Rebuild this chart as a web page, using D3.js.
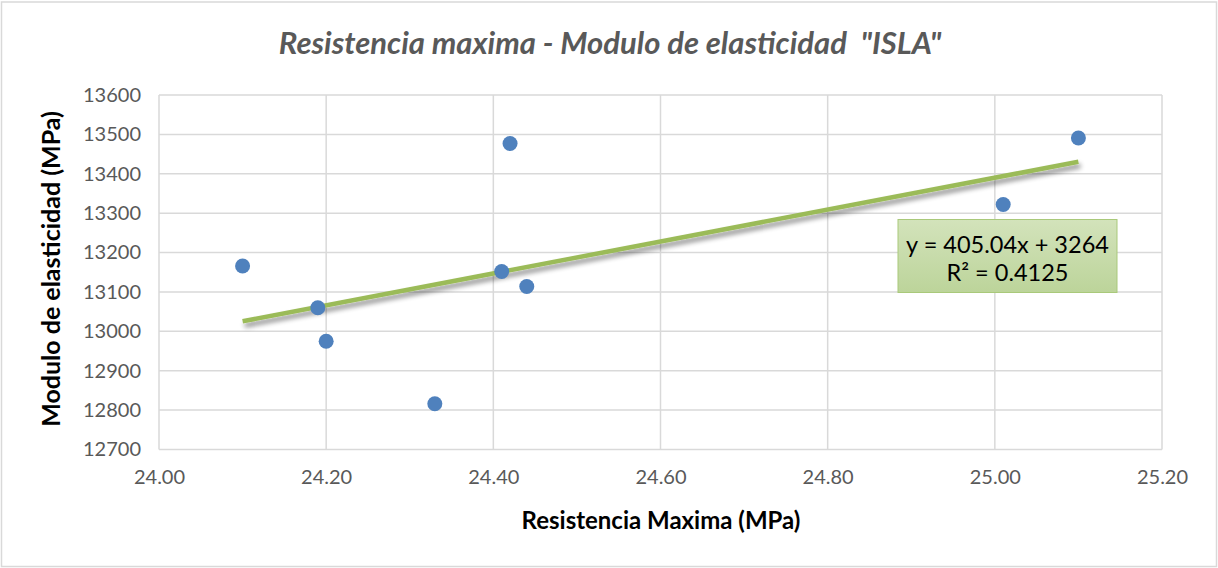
<!DOCTYPE html>
<html>
<head>
<meta charset="utf-8">
<script src="https://cdnjs.cloudflare.com/ajax/libs/d3/7.8.5/d3.min.js"></script>
<style>
  body { margin: 0; background: #fff; }
  svg { display: block; font-family: Lato, "Open Sans", sans-serif; }
</style>
</head>
<body>
<div id="chart"></div>
<script>
// data
var resistencia = [24.10, 24.19, 24.20, 24.33, 24.41, 24.42, 24.44, 25.01, 25.10];
var modulo = [13166, 13060, 12975, 12816, 13152, 13477, 13114, 13322, 13491];
var xTicks = [24.00, 24.20, 24.40, 24.60, 24.80, 25.00, 25.20];
var yTicks = [12700, 12800, 12900, 13000, 13100, 13200, 13300, 13400, 13500, 13600];
var slope = 405.04, intercept = 3264;
var eqLines = ["y = 405.04x + 3264", "R² = 0.4125"];

var width = 1218, height = 568;
var plotLeft = 159, plotRight = 1162, plotTop = 95, plotBottom = 449.5;

var svg = d3.select("#chart").append("svg")
	.attr("width", width)
	.attr("height", height);

var defs = svg.append("defs");
var shadow = defs.append("filter").attr("id", "shadow")
	.attr("x", "-5%").attr("y", "-50%").attr("width", "110%").attr("height", "300%");
shadow.append("feGaussianBlur").attr("in", "SourceAlpha").attr("stdDeviation", 2.5);
shadow.append("feOffset").attr("dx", 2).attr("dy", 4).attr("result", "off");
shadow.append("feComponentTransfer").append("feFuncA").attr("type", "linear").attr("slope", 0.45);
var merge = shadow.append("feMerge");
merge.append("feMergeNode");
merge.append("feMergeNode").attr("in", "SourceGraphic");

var grad = defs.append("linearGradient").attr("id", "boxfill")
	.attr("x1", 0).attr("y1", 0).attr("x2", 0).attr("y2", 1);
grad.append("stop").attr("offset", 0).attr("stop-color", "#d3e3bb");
grad.append("stop").attr("offset", 1).attr("stop-color", "#bcd49a");

// outer border
svg.append("rect")
	.attr("x", 1.5).attr("y", 2).attr("width", width - 3).attr("height", height - 3.5)
	.style("fill", "#fff").style("stroke", "#d9d9d9").style("stroke-width", 1.5);

var x = d3.scaleLinear().domain([24.00, 25.20]).range([plotLeft, plotRight]);
var y = d3.scaleLinear().domain([12700, 13600]).range([plotBottom, plotTop]);

// gridlines
svg.append("g").selectAll("line").data(yTicks).enter().append("line")
	.attr("x1", plotLeft).attr("x2", plotRight)
	.attr("y1", function(d) { return y(d); })
	.attr("y2", function(d) { return y(d); })
	.style("stroke", "#d9d9d9").style("stroke-width", 1.5);
svg.append("g").selectAll("line").data(xTicks).enter().append("line")
	.attr("y1", plotTop).attr("y2", plotBottom)
	.attr("x1", function(d) { return x(d); })
	.attr("x2", function(d) { return x(d); })
	.style("stroke", "#d9d9d9").style("stroke-width", 1.5);

// axes (labels only)
var yAxis = svg.append("g").attr("transform", "translate(" + plotLeft + ",0)")
	.call(d3.axisLeft(y).tickValues(yTicks).tickSize(0).tickPadding(18).tickFormat(d3.format("d")));
var xAxis = svg.append("g").attr("transform", "translate(0," + plotBottom + ")")
	.call(d3.axisBottom(x).tickValues(xTicks).tickSize(0).tickPadding(20).tickFormat(d3.format(".2f")));
[xAxis, yAxis].forEach(function(a) {
	a.select(".domain").remove();
	a.selectAll("text").style("font-size", "20px").style("fill", "#595959")
		.style("font-family", "Lato, 'Open Sans', sans-serif");
});

// trendline
var xMin = d3.min(resistencia), xMax = d3.max(resistencia);
svg.append("line")
	.attr("x1", x(xMin)).attr("y1", y(slope * xMin + intercept))
	.attr("x2", x(xMax)).attr("y2", y(slope * xMax + intercept))
	.attr("filter", "url(#shadow)")
	.style("stroke", "#9bbb59").style("stroke-width", 4.5);

// points
svg.append("g").selectAll("circle").data(resistencia).enter().append("circle")
	.attr("cx", function(d) { return x(d); })
	.attr("cy", function(d, i) { return y(modulo[i]); })
	.attr("r", 7.5)
	.style("fill", "#4f81bd");

// equation box
var box = svg.append("g").attr("transform", "translate(898,219.5)");
box.append("rect").attr("width", 219).attr("height", 73)
	.style("fill", "url(#boxfill)").style("stroke", "#a9c97a").style("stroke-width", 1);
box.selectAll("text").data(eqLines).enter().append("text")
	.attr("x", 109.5)
	.attr("y", function(d, i) { return 33 + i * 28; })
	.attr("text-anchor", "middle")
	.style("font-size", "23.5px").style("fill", "#000")
	.text(function(d) { return d; });

// titles
svg.append("text").attr("x", 610).attr("y", 54).attr("text-anchor", "middle")
	.style("font-size", "31px").style("font-style", "italic").style("font-weight", "bold")
	.style("fill", "#595959").style("white-space", "pre")
	.text('Resistencia maxima - Modulo de elasticidad  "ISLA"');
svg.append("text").attr("x", 661).attr("y", 529).attr("text-anchor", "middle")
	.style("font-size", "24px").style("font-weight", "bold").style("fill", "#000")
	.text("Resistencia Maxima (MPa)");
svg.append("text").attr("transform", "translate(60,269) rotate(-90)").attr("text-anchor", "middle")
	.style("font-size", "25px").style("font-weight", "bold").style("fill", "#000")
	.text("Modulo de elasticidad (MPa)");
</script>
</body>
</html>
